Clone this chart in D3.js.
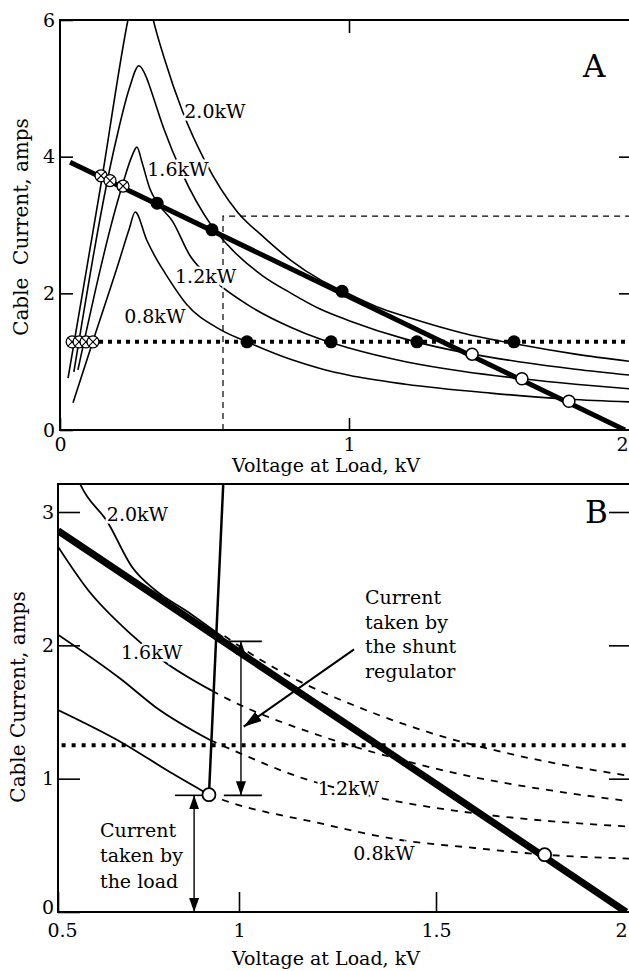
<!DOCTYPE html>
<html>
  <head>
    <meta charset="utf-8">
    <title>Cable Current</title>
    <script type="text/javascript" src="https://d3js.org/d3.v7.min.js"></script>
    <style>
      html, body { margin: 0; background: #fff; }
    </style>
  </head>
  <body>
    <script>

    // ---- panel A data: [kV, amps] ----
    var curveA08 = [[0.045,0.40],[0.114,1.30],[0.20,2.41],[0.24,2.95],[0.26,3.19],[0.30,2.78],[0.33,2.53],[0.363,2.30],[0.44,1.83],[0.55,1.48],[0.647,1.29],[0.8,1.03],[0.9,0.90],[1.0,0.80],[1.2,0.67],[1.5,0.54],[1.777,0.45],[2.0,0.41]];
    var curveA12 = [[0.062,0.88],[0.215,3.57],[0.25,4.02],[0.266,4.14],[0.285,3.90],[0.311,3.53],[0.336,3.33],[0.39,3.05],[0.45,2.55],[0.53,2.20],[0.65,1.83],[0.8,1.50],[0.9,1.33],[1.0,1.20],[1.2,1.00],[1.4,0.86],[1.611,0.75],[1.8,0.67],[2.0,0.60]];
    var curveA16 = [[0.048,0.85],[0.194,4.24],[0.24,5.0],[0.273,5.33],[0.30,5.15],[0.311,5.02],[0.36,4.40],[0.42,3.78],[0.526,2.98],[0.6,2.62],[0.7,2.26],[0.8,2.0],[0.9,1.77],[1.0,1.60],[1.2,1.33],[1.435,1.11],[1.6,1.0],[1.8,0.89],[2.0,0.80]];
    var curveA20 = [[0.028,0.76],[0.142,3.6],[0.235,6.0],[0.26,6.5],[0.28,6.6],[0.30,6.45],[0.32,6.05],[0.36,5.45],[0.425,4.65],[0.5,3.95],[0.616,3.18],[0.7,2.84],[0.8,2.48],[0.9,2.20],[0.976,2.04],[1.1,1.80],[1.2,1.66],[1.4,1.42],[1.6,1.25],[1.8,1.11],[2.0,1.0]];
    var loadLineA = [[0.035,3.92],[1.975,0]];
    var levelA = 1.29;
    var dashedA = [[0.564,0],[0.564,3.13],[2.05,3.13]];
    var crossOnLineA = [[0.142,3.72],[0.173,3.65],[0.218,3.57]];
    var crossOnLevelA = [0.042,0.066,0.090,0.114];
    var dotsOnLineA = [[0.336,3.32],[0.526,2.93],[0.976,2.03]];
    var dotsOnLevelA = [0.647,0.938,1.24,1.583];
    var openOnLineA = [[1.435,1.11],[1.611,0.75],[1.777,0.42]];
    var labelsA = [["2.0kW",0.43,4.57],["1.6kW",0.302,3.71],["1.2kW",0.398,2.15],["0.8kW",0.222,1.57]];
    var ticksXA = [0,1,2];
    var ticksYA = [0,2,4,6];

    // ---- panel B data ----
    var solidB20 = [[0.54,3.35],[0.561,3.21],[0.638,2.92],[0.704,2.59],[0.768,2.415],[0.859,2.25],[0.956,2.06]];
    var solidB16 = [[0.5,2.74],[0.583,2.415],[0.699,2.09],[0.787,1.89],[0.925,1.66]];
    var solidB12 = [[0.5,2.08],[0.677,1.74],[0.768,1.54],[0.92,1.29]];
    var solidB08 = [[0.5,1.515],[0.677,1.27],[0.815,1.04],[0.917,0.88]];
    var dashB20 = [[0.96,2.07],[1.05,1.90],[1.147,1.74],[1.3,1.54],[1.49,1.34],[1.7,1.18],[2.0,1.02]];
    var dashB16 = [[0.925,1.66],[0.967,1.60],[1.198,1.33],[1.4,1.15],[1.6,1.01],[1.8,0.91],[2.0,0.83]];
    var dashB12 = [[0.92,1.29],[1.003,1.19],[1.155,1.01],[1.35,0.86],[1.6,0.74],[1.8,0.68],[2.0,0.64]];
    var dashB08 = [[0.917,0.88],[0.956,0.84],[1.198,0.67],[1.41,0.54],[1.6,0.48],[1.78,0.43],[2.0,0.40]];
    var loadLineB = [[0.5,2.86],[1.0,1.95],[1.5,0.96],[1.99,0]];
    var steepB = [[0.917,0.88],[0.958,3.3]];
    var levelB = 1.25;
    var openB = [[0.917,0.88],[1.78,0.43]];
    var labelsB = [["2.0kW",0.635,2.93],["1.6kW",0.674,1.90],["1.2kW",1.2,0.88],["0.8kW",1.29,0.39]];
    var ticksXB = [0.5,1,1.5,2];
    var ticksYB = [0,1,2,3];
    var shuntArrow = [[1.005,2.03],[1.005,0.875]];
    var shuntBars = [[[0.961,2.03],[1.058,2.03]],[[0.958,0.875],[1.058,0.875]],[[0.823,0.875],[0.90,0.875]]];
    var loadArrow = [[0.876,0.875],[0.876,0]];
    var pointer = [[1.292,1.97],[1.012,1.39]];
    var shuntText = ["Current","taken by","the shunt","regulator"];
    var loadText = ["Current","taken by","the load"];

    var font = "'DejaVu Serif', serif";

    var svg = d3.select("body").append("svg")
                .attr("width", 629).attr("height", 971)
                .style("display", "block")
                .attr("font-family", font);

    var xA = d3.scaleLinear().domain([0,1,2]).range([60,349,632]);
    var yA = d3.scaleLinear().domain([0,6]).range([430,20]);
    var xB = d3.scaleLinear().domain([0.5,1,1.5,2]).range([58,239,436,630]);
    var yB = d3.scaleLinear().domain([0,3.21]).range([912,484]);

    var defs = svg.append("defs");
    defs.append("clipPath").attr("id","clipA").append("rect")
        .attr("x",60).attr("y",20).attr("width",572).attr("height",410);
    defs.append("clipPath").attr("id","clipB").append("rect")
        .attr("x",58).attr("y",484).attr("width",572).attr("height",428);
    defs.append("marker").attr("id","ah")
        .attr("viewBox","0 -5 14 10").attr("refX",14).attr("refY",0)
        .attr("markerUnits","userSpaceOnUse").attr("markerWidth",14).attr("markerHeight",10)
        .attr("orient","auto-start-reverse")
        .append("path").attr("d","M0,-5L14,0L0,5Z");
    defs.append("marker").attr("id","ah2")
        .attr("viewBox","0 -5 16 10").attr("refX",16).attr("refY",0)
        .attr("markerUnits","userSpaceOnUse").attr("markerWidth",18).attr("markerHeight",12)
        .attr("orient","auto")
        .append("path").attr("d","M0,-5L16,0L0,5Z");

    function draw(g, pts, sx, sy, w, dash, curve) {
      return g.append("path").datum(pts)
        .attr("d", d3.line().x(function(d){return sx(d[0])}).y(function(d){return sy(d[1])})
                     .curve(curve || d3.curveLinear))
        .attr("fill","none").attr("stroke","#000")
        .attr("stroke-width", w)
        .attr("stroke-dasharray", dash || null);
    }

    function styleAxis(g) {
      g.select(".domain").remove();
      g.attr("font-family", font).attr("font-size", 19);
      g.selectAll("line").attr("stroke-width", 1.6);
      g.selectAll("text").attr("fill", "#000");
    }

    function label(g, txt, x, y, size) {
      return g.append("text").attr("x", x).attr("y", y)
        .attr("font-size", size || 19)
        .attr("stroke","#fff").attr("stroke-width",5).attr("paint-order","stroke")
        .attr("fill","#000").style("white-space","pre").text(txt);
    }

    function crossed(g, cx, cy) {
      var r = 6, k = 4.2;
      g.append("circle").attr("cx",cx).attr("cy",cy).attr("r",r)
        .attr("fill","#fff").attr("stroke","#000").attr("stroke-width",1.3);
      g.append("path").attr("d","M"+(cx-k)+","+(cy-k)+"L"+(cx+k)+","+(cy+k)+"M"+(cx-k)+","+(cy+k)+"L"+(cx+k)+","+(cy-k))
        .attr("stroke","#000").attr("stroke-width",1.1);
    }

    // ================= PANEL A =================
    var pA = svg.append("g").attr("clip-path","url(#clipA)");

    draw(pA, dashedA, xA, yA, 1.2, "6,5");
    draw(pA, [[0.135,levelA],[2.05,levelA]], xA, yA, 4, "4,5");
    [curveA08, curveA12, curveA16, curveA20].forEach(function(c){
      draw(pA, c, xA, yA, 1.6, null, d3.curveMonotoneX);
    });
    draw(pA, loadLineA, xA, yA, 5);

    labelsA.forEach(function(l){ label(pA, l[0], xA(l[1]), yA(l[2])); });

    crossOnLineA.forEach(function(d){ crossed(pA, xA(d[0]), yA(d[1])); });
    crossOnLevelA.forEach(function(v){ crossed(pA, xA(v), yA(levelA)); });
    pA.selectAll(".dotA").data(dotsOnLineA.concat(dotsOnLevelA.map(function(v){return [v,levelA]})))
      .enter().append("circle")
      .attr("cx", function(d){return xA(d[0])}).attr("cy", function(d){return yA(d[1])})
      .attr("r", 6.5).attr("fill","#000");
    pA.selectAll(".openA").data(openOnLineA).enter().append("circle")
      .attr("cx", function(d){return xA(d[0])}).attr("cy", function(d){return yA(d[1])})
      .attr("r", 6).attr("fill","#fff").attr("stroke","#000").attr("stroke-width",1.5);

    svg.append("rect").attr("x",60).attr("y",20).attr("width",572).attr("height",410)
      .attr("fill","none").attr("stroke","#000").attr("stroke-width",2);

    svg.append("g").attr("transform","translate(60,0)")
      .call(d3.axisLeft(yA).tickValues(ticksYA).tickSize(-13).tickPadding(5).tickFormat(d3.format("d"))).call(styleAxis);
    var bxA = svg.append("g").attr("transform","translate(0,430)")
      .call(d3.axisBottom(xA).tickValues(ticksXA).tickSize(-12).tickPadding(8).tickFormat(d3.format("d"))).call(styleAxis);
    bxA.selectAll(".tick text").filter(function(d){return d === 2}).attr("text-anchor","end").attr("x", -4);
    svg.append("g").attr("transform","translate(0,20)")
      .call(d3.axisTop(xA).tickValues([1]).tickSize(-13).tickFormat("")).call(styleAxis);
    svg.append("g").attr("transform","translate(632,0)")
      .call(d3.axisRight(yA).tickValues([2,4]).tickSize(-13).tickFormat("")).call(styleAxis);

    svg.append("text").attr("x",583).attr("y",77).attr("font-size",31).text("A");
    svg.append("text").attr("x",326).attr("y",472).attr("text-anchor","middle")
      .attr("font-size",19).text("Voltage at Load, kV");
    svg.append("text").attr("transform","translate(28,227) rotate(-90)")
      .attr("text-anchor","middle").attr("font-size",20).style("white-space","pre")
      .text("Cable  Current, amps");

    // ================= PANEL B =================
    var pB = svg.append("g").attr("clip-path","url(#clipB)");

    draw(pB, [[0.51,levelB],[2.05,levelB]], xB, yB, 4, "4,6");
    [dashB20, dashB16, dashB12, dashB08].forEach(function(c){
      draw(pB, c, xB, yB, 1.8, "7,7", d3.curveMonotoneX);
    });
    [solidB20, solidB16, solidB12, solidB08].forEach(function(c){
      draw(pB, c, xB, yB, 1.8, null, d3.curveMonotoneX);
    });
    labelsB.forEach(function(l){ label(pB, l[0], xB(l[1]), yB(l[2])); });
    draw(pB, loadLineB, xB, yB, 7);
    draw(pB, steepB, xB, yB, 2.5);

    shuntBars.forEach(function(b){ draw(pB, b, xB, yB, 1.6); });
    draw(pB, shuntArrow, xB, yB, 1.4).attr("marker-start","url(#ah)").attr("marker-end","url(#ah)");
    draw(pB, loadArrow, xB, yB, 1.4).attr("marker-start","url(#ah)").attr("marker-end","url(#ah)");
    draw(pB, pointer, xB, yB, 2).attr("marker-end","url(#ah2)");

    pB.selectAll(".openB").data(openB).enter().append("circle")
      .attr("cx", function(d){return xB(d[0])}).attr("cy", function(d){return yB(d[1])})
      .attr("r", 6.5).attr("fill","#fff").attr("stroke","#000").attr("stroke-width",1.8);

    svg.append("rect").attr("x",58).attr("y",484).attr("width",572).attr("height",428)
      .attr("fill","none").attr("stroke","#000").attr("stroke-width",2);

    var lyB = svg.append("g").attr("transform","translate(58,0)")
      .call(d3.axisLeft(yB).tickValues(ticksYB).tickSize(-22).tickPadding(4).tickFormat(d3.format("d"))).call(styleAxis);
    lyB.selectAll(".tick text").filter(function(d){return d === 0}).attr("y", -5);
    var bxB = svg.append("g").attr("transform","translate(0,912)")
      .call(d3.axisBottom(xB).tickValues(ticksXB).tickSize(-20).tickPadding(12).tickFormat(function(d){return String(d)})).call(styleAxis);
    bxB.selectAll(".tick text").filter(function(d){return d === 2}).attr("text-anchor","end").attr("x", -3);
    bxB.selectAll(".tick text").filter(function(d){return d === 0.5}).attr("x", 4);
    svg.append("g").attr("transform","translate(630,0)")
      .call(d3.axisRight(yB).tickValues([1,2,3]).tickSize(-21).tickFormat("")).call(styleAxis);

    svg.append("text").attr("x",585).attr("y",523).attr("font-size",31).text("B");
    svg.append("text").attr("x",326).attr("y",965).attr("text-anchor","middle")
      .attr("font-size",19).text("Voltage at Load, kV");
    svg.append("text").attr("transform","translate(25,697) rotate(-90)")
      .attr("text-anchor","middle").attr("font-size",20).text("Cable Current, amps");

    svg.append("g").selectAll("text").data(shuntText).enter().append("text")
      .attr("x",365).attr("y",function(d,i){return 604 + i*24.7})
      .attr("font-size",19).text(function(d){return d});
    svg.append("g").selectAll("text").data(loadText).enter().append("text")
      .attr("x",100).attr("y",function(d,i){return 837 + i*25.3})
      .attr("font-size",19).text(function(d){return d});

    </script>
  </body>
</html>
